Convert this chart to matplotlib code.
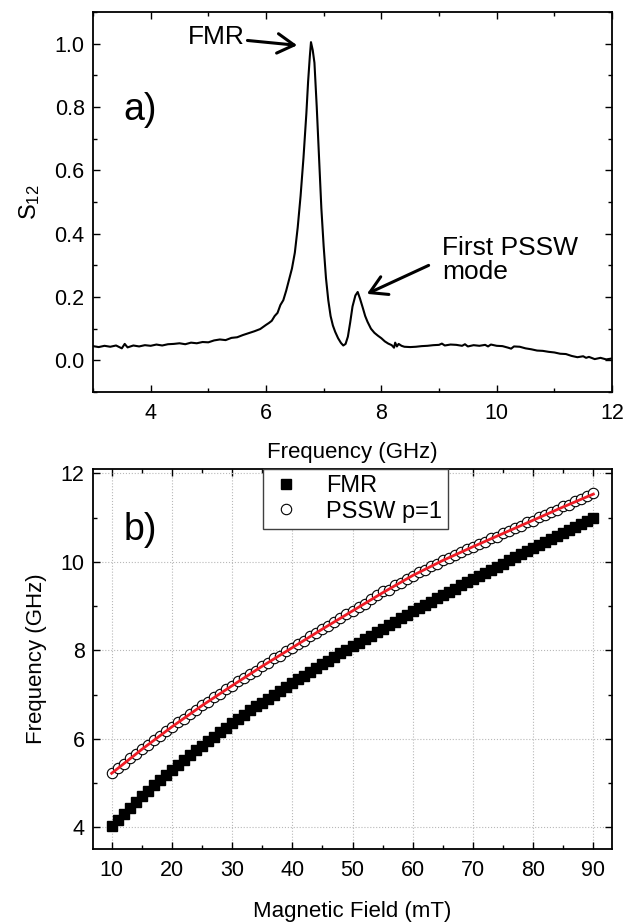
import matplotlib
matplotlib.use("Agg")
import matplotlib.pyplot as plt
from matplotlib.ticker import MultipleLocator, FormatStrFormatter

plt.rcParams['font.family'] = ['Liberation Sans', 'DejaVu Sans']

# ---- panel a) : S12 spectrum ----
freq_ghz = [3.0, 3.1, 3.2, 3.3, 3.4, 3.5, 3.55, 3.6, 3.7, 3.8, 3.9, 4.0, 4.1, 4.2, 4.3,
            4.4, 4.5, 4.6, 4.7, 4.8, 4.9, 5.0, 5.1, 5.2, 5.3, 5.4, 5.5, 5.6, 5.7, 5.8,
            5.9, 6.0, 6.05, 6.1, 6.15, 6.2, 6.25, 6.3, 6.35, 6.4, 6.45, 6.5, 6.55, 6.6,
            6.65, 6.7, 6.73, 6.76, 6.78, 6.81, 6.84, 6.88, 6.92, 6.96, 7.0, 7.04, 7.08,
            7.12, 7.16, 7.2, 7.25, 7.3, 7.34, 7.38, 7.42, 7.46, 7.5, 7.55, 7.59, 7.63,
            7.68, 7.72, 7.76, 7.82, 7.88, 7.94, 8.0, 8.06, 8.12, 8.18, 8.22, 8.24, 8.27,
            8.3, 8.35, 8.4, 8.5, 8.6, 8.7, 8.8, 8.9, 9.0, 9.05, 9.1, 9.2, 9.3, 9.4, 9.45,
            9.5, 9.6, 9.7, 9.8, 9.85, 9.9, 10.0, 10.1, 10.2, 10.25, 10.3, 10.4, 10.5,
            10.6, 10.7, 10.8, 10.9, 11.0, 11.1, 11.2, 11.3, 11.4, 11.5, 11.55, 11.6,
            11.7, 11.8, 11.9, 12.0]
s12 = [0.045, 0.042, 0.046, 0.043, 0.047, 0.038, 0.052, 0.041, 0.047, 0.044, 0.048,
       0.046, 0.050, 0.047, 0.051, 0.052, 0.054, 0.051, 0.056, 0.054, 0.058, 0.057,
       0.063, 0.066, 0.064, 0.071, 0.073, 0.080, 0.086, 0.092, 0.099, 0.112, 0.118,
       0.125, 0.140, 0.150, 0.175, 0.190, 0.220, 0.255, 0.290, 0.340, 0.420, 0.520,
       0.640, 0.780, 0.880, 0.960, 1.005, 0.980, 0.940, 0.800, 0.640, 0.480, 0.360,
       0.260, 0.190, 0.140, 0.110, 0.090, 0.070, 0.055, 0.047, 0.052, 0.075, 0.120,
       0.170, 0.205, 0.216, 0.195, 0.165, 0.140, 0.122, 0.100, 0.087, 0.078, 0.070,
       0.060, 0.053, 0.048, 0.040, 0.056, 0.044, 0.052, 0.046, 0.043, 0.042, 0.043,
       0.045, 0.046, 0.048, 0.049, 0.053, 0.047, 0.050, 0.049, 0.046, 0.051, 0.044,
       0.048, 0.046, 0.049, 0.044, 0.050, 0.046, 0.045, 0.040, 0.037, 0.044, 0.043,
       0.038, 0.035, 0.031, 0.030, 0.027, 0.025, 0.021, 0.020, 0.014, 0.010, 0.013,
       0.008, 0.011, 0.004, 0.008, 0.003, 0.006]

# ---- panel b) : dispersion vs field ----
field_mt = list(range(10, 91))
fmr_ghz = [4.03, 4.17, 4.31, 4.44, 4.57, 4.70, 4.83, 4.95, 5.07, 5.19,
           5.30, 5.41, 5.52, 5.63, 5.74, 5.84, 5.95, 6.05, 6.15, 6.25,
           6.35, 6.45, 6.54, 6.64, 6.73, 6.82, 6.91, 7.00, 7.09, 7.17,
           7.26, 7.34, 7.43, 7.51, 7.60, 7.68, 7.76, 7.84, 7.93, 8.01,
           8.09, 8.17, 8.25, 8.33, 8.41, 8.49, 8.57, 8.65, 8.72, 8.80,
           8.88, 8.95, 9.03, 9.10, 9.18, 9.25, 9.32, 9.39, 9.47, 9.54,
           9.61, 9.68, 9.75, 9.82, 9.89, 9.96, 10.03, 10.10, 10.17, 10.24,
           10.31, 10.38, 10.45, 10.51, 10.58, 10.65, 10.72, 10.79, 10.86, 10.93,
           11.00]
pssw_ghz = [5.22, 5.35, 5.43, 5.56, 5.65, 5.78, 5.86, 5.98, 6.06, 6.18,
            6.27, 6.38, 6.45, 6.57, 6.64, 6.76, 6.83, 6.94, 7.01, 7.12,
            7.19, 7.30, 7.37, 7.47, 7.54, 7.65, 7.71, 7.82, 7.88, 7.99,
            8.05, 8.15, 8.22, 8.32, 8.39, 8.49, 8.55, 8.65, 8.72, 8.82,
            8.88, 8.98, 9.04, 9.15, 9.24, 9.33, 9.37, 9.47, 9.52, 9.62,
            9.68, 9.77, 9.82, 9.91, 9.95, 10.04, 10.08, 10.16, 10.21, 10.29,
            10.33, 10.41, 10.45, 10.53, 10.57, 10.65, 10.69, 10.77, 10.81, 10.89,
            10.93, 11.01, 11.05, 11.13, 11.17, 11.25, 11.29, 11.37, 11.41, 11.48,
            11.55]
fit_field = [10, 15, 20, 25, 30, 35, 40, 45, 50, 55, 60, 65, 70, 75, 80, 85, 90]
fit_ghz = [5.22, 5.76, 6.27, 6.75, 7.20, 7.64, 8.06, 8.48, 8.89, 9.30, 9.69,
           10.03, 10.34, 10.64, 10.94, 11.24, 11.53]

fig = plt.figure(figsize=(6.36, 9.22), dpi=100)
ax1 = fig.add_axes([0.1462, 0.5748, 0.8161, 0.4121])
ax2 = fig.add_axes([0.1462, 0.0792, 0.8161, 0.4118])

tick_fs = 15.5
label_fs = 16


def style_axis(ax):
    for sp in ax.spines.values():
        sp.set_linewidth(1.3)
    ax.tick_params(which='both', direction='in', top=True, right=True,
                   labelsize=tick_fs, width=1.0)
    ax.tick_params(which='major', length=5)
    ax.tick_params(which='minor', length=3)
    ax.tick_params(axis='x', which='major', pad=8)
    ax.tick_params(axis='y', which='major', pad=6)


# panel a
ax1.plot(freq_ghz, s12, color='black', lw=1.5)
ax1.set_xlim(3, 12)
ax1.set_ylim(-0.1, 1.1)
ax1.xaxis.set_major_locator(MultipleLocator(2))
ax1.xaxis.set_minor_locator(MultipleLocator(1))
ax1.yaxis.set_major_locator(MultipleLocator(0.2))
ax1.yaxis.set_minor_locator(MultipleLocator(0.1))
ax1.yaxis.set_major_formatter(FormatStrFormatter('%.1f'))
style_axis(ax1)
ax1.set_xlabel('Frequency (GHz)', fontsize=label_fs, labelpad=13)
ax1.set_ylabel('$\\mathregular{S_{12}}$', fontsize=17, labelpad=9)
ax1.text(3.52, 0.79, 'a)', fontsize=27, va='center', ha='left')

arrow = dict(arrowstyle='->, head_length=0.6, head_width=0.35', lw=2.2, color='black',
             mutation_scale=20, shrinkA=0, shrinkB=0)
ax1.annotate('FMR', xy=(6.54, 0.995), xytext=(5.63, 1.02), fontsize=19,
             ha='right', va='center', arrowprops=arrow)
ax1.annotate('', xy=(7.75, 0.21), xytext=(8.82, 0.30), arrowprops=arrow)
ax1.text(9.06, 0.316, 'First PSSW\nmode', fontsize=19, ha='left', va='center',
         linespacing=1.0)

# panel b
ax2.grid(True, which='major', linestyle=':', color='#b8b8b8', lw=0.8)
ax2.set_axisbelow(True)
ax2.plot(field_mt, fmr_ghz, linestyle='none', marker='s', ms=7.5, color='black',
         label='FMR')
ax2.plot(field_mt, pssw_ghz, linestyle='none', marker='o', ms=7.5, mfc='white',
         mec='black', mew=0.8, label='PSSW p=1')
ax2.plot(fit_field, fit_ghz, color='#ee1c25', lw=2)
ax2.set_xlim(6.9, 93.1)
ax2.set_ylim(3.51, 12.09)
ax2.xaxis.set_major_locator(MultipleLocator(10))
ax2.xaxis.set_minor_locator(MultipleLocator(5))
ax2.yaxis.set_major_locator(MultipleLocator(2))
ax2.yaxis.set_minor_locator(MultipleLocator(1))
style_axis(ax2)
ax2.set_xlabel('Magnetic Field (mT)', fontsize=label_fs, labelpad=14)
ax2.set_ylabel('Frequency (GHz)', fontsize=label_fs, labelpad=10)
ax2.text(12.0, 10.72, 'b)', fontsize=27, va='center', ha='left')

leg = ax2.legend(loc='upper center', bbox_to_anchor=(0.506, 1.0), fontsize=17,
                 frameon=True, fancybox=False, borderaxespad=0, borderpad=0.25,
                 labelspacing=0.15, handlelength=1.4, handletextpad=1.0)
leg.get_frame().set_edgecolor('#404040')
leg.get_frame().set_linewidth(1.0)
leg.get_frame().set_alpha(1)

fig.savefig('out.png', dpi=100)
